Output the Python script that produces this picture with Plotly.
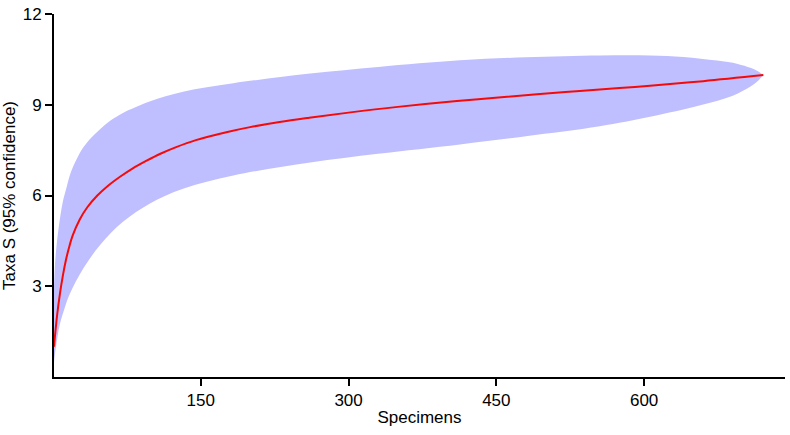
import plotly.graph_objects as go

# Rarefaction curve (mean) — specimens vs taxa
mean_x = [1, 4, 7, 10, 13, 16, 20, 27, 35, 45, 55, 68, 81, 95, 109, 125, 145, 177, 200,
          230, 260, 300, 350, 410, 455, 520, 575, 606, 660, 721]
mean_y = [1.0, 2.0, 2.75, 3.35, 3.85, 4.25, 4.68, 5.2, 5.62, 6.0, 6.3, 6.62, 6.9, 7.15,
          7.38, 7.6, 7.83, 8.1, 8.26, 8.43, 8.57, 8.74, 8.93, 9.12, 9.25, 9.42, 9.55,
          9.63, 9.78, 9.98]

# Upper 95% confidence bound
up_x = [1, 2, 3.7, 6, 10, 14, 17, 21, 26, 31, 39, 48, 58, 71, 98, 132, 183, 261, 330,
        413, 480, 555, 606, 640, 674, 695, 708, 716, 721]
up_y = [3.0, 3.73, 4.37, 5.0, 5.8, 6.3, 6.66, 7.0, 7.33, 7.6, 7.92, 8.2, 8.47, 8.73,
        9.11, 9.43, 9.71, 10.03, 10.25, 10.47, 10.57, 10.63, 10.63, 10.58, 10.46, 10.35,
        10.22, 10.1, 9.98]

# Lower 95% confidence bound
lo_x = [1, 3, 7, 12, 17, 31, 48, 71, 98, 132, 183, 261, 330, 413, 480, 555, 606, 657,
        690, 708, 716, 721]
lo_y = [0.5, 1.0, 1.75, 2.3, 2.74, 3.6, 4.37, 5.13, 5.73, 6.22, 6.66, 7.09, 7.38, 7.69,
        7.96, 8.29, 8.6, 8.98, 9.3, 9.6, 9.8, 9.98]

x_ticks = [150, 300, 450, 600]
y_ticks = [3, 6, 9, 12]

band_x = up_x + lo_x[::-1]
band_y = up_y + lo_y[::-1]

fig = go.Figure()
fig.add_trace(go.Scatter(
    x=band_x, y=band_y, fill="toself", mode="lines",
    line=dict(width=0, color="rgba(0,0,0,0)", shape="spline", smoothing=1.0),
    fillcolor="rgb(191,191,255)", hoverinfo="skip", showlegend=False))
fig.add_trace(go.Scatter(
    x=mean_x, y=mean_y, mode="lines",
    line=dict(color="rgb(245,10,10)", width=2, shape="spline", smoothing=1.0),
    showlegend=False))

narrow = dict(family="Liberation Sans Narrow, Arial Narrow, Liberation Sans, sans-serif",
              size=17, color="black")
regular = dict(family="Liberation Sans, Arial, sans-serif", size=17, color="black")

fig.update_layout(
    width=790, height=435,
    margin=dict(l=54, r=5, t=10, b=58),
    plot_bgcolor="white", paper_bgcolor="white",
    font=regular,
    xaxis=dict(range=[1, 743], tickvals=x_ticks, ticktext=[str(v) for v in x_ticks],
               showline=True, linecolor="black", linewidth=2, ticks="outside",
               ticklen=7, tickwidth=2, tickcolor="black", showgrid=False, zeroline=False,
               title=dict(text="Specimens", standoff=2, font=narrow), tickfont=narrow),
    yaxis=dict(range=[0, 12], tickvals=y_ticks, ticktext=[str(v) for v in y_ticks],
               showline=True, linecolor="black", linewidth=2, ticks="outside",
               ticklen=7, tickwidth=2, tickcolor="black", showgrid=False, zeroline=False,
               title=dict(text="Taxa S (95% confidence)", standoff=6, font=narrow),
               tickfont=regular),
)
fig.write_html("out.html")
